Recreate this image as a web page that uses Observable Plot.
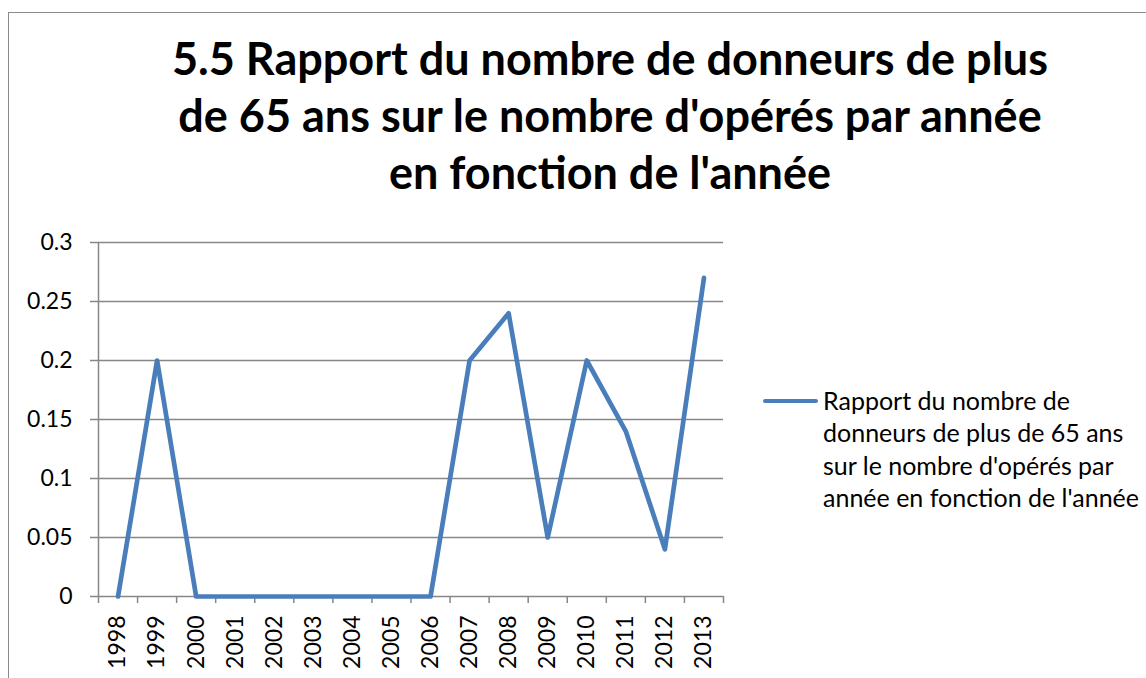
<!DOCTYPE html>
<html>
<head>
<meta charset="utf-8">
<script src="https://cdn.jsdelivr.net/npm/d3@7"></script>
<script src="https://cdn.jsdelivr.net/npm/@observablehq/plot@0.6"></script>
<style>
  html, body { margin: 0; padding: 0; background: #fff; }
  #wrap { position: relative; width: 1146px; height: 678px; overflow: hidden; font-family: Lato, "Open Sans", sans-serif; }
  #frame { position: absolute; left: 8px; top: 12px; width: 1200px; height: 700px; border-left: 1.5px solid #8a8a8a; border-top: 1.5px solid #8a8a8a; }
  #title { position: absolute; left: 110px; top: 30px; width: 1000px; text-align: center; font-weight: bold; font-size: 45px; line-height: 57px; color: #000; white-space: nowrap; }
  #chart { position: absolute; left: 0; top: 225px; }
  #legend { position: absolute; left: 763px; top: 384px; }
  #legend .swatch { position: absolute; left: 0; top: 14.5px; width: 55px; height: 4.5px; border-radius: 3px; background: #4a7ebb; }
  #legend .txt { position: absolute; left: 60px; top: 0; font-size: 25px; line-height: 32.3px; white-space: nowrap; color: #000; }
</style>
</head>
<body>
<div id="wrap">
  <div id="frame"></div>
  <div id="title"></div>
  <div id="chart"></div>
  <div id="legend"><div class="swatch"></div><div class="txt"></div></div>
</div>
<script>
const titleLines = ["5.5 Rapport du nombre de donneurs de plus", "de 65 ans sur le nombre d'opérés par année", "en fonction de l'année"];
const legendLines = ["Rapport du nombre de", "donneurs de plus de 65 ans", "sur le nombre d'opérés par", "année en fonction de l'année"];
const years = [1998, 1999, 2000, 2001, 2002, 2003, 2004, 2005, 2006, 2007, 2008, 2009, 2010, 2011, 2012, 2013];
const ratios = [0, 0.2, 0, 0, 0, 0, 0, 0, 0, 0.2, 0.24, 0.05, 0.2, 0.14, 0.04, 0.27];
const yTicks = [0, 0.05, 0.1, 0.15, 0.2, 0.25, 0.3];

document.getElementById("title").innerHTML = titleLines.join("<br>");
document.querySelector("#legend .txt").innerHTML = legendLines.join("<br>");

const data = years.map((year, i) => ({year, value: ratios[i]}));
const boundaries = years.map(y => y - 0.5).concat([years[years.length - 1] + 0.5]);
const grid = "#878787";

const chart = Plot.plot({
  width: 1146,
  height: 453,
  marginLeft: 98,
  marginRight: 423,
  marginTop: 17,
  marginBottom: 82,
  style: {fontFamily: "Lato, 'Open Sans', sans-serif", fontSize: "23px", background: "transparent", overflow: "visible"},
  x: {type: "linear", domain: [boundaries[0], boundaries[boundaries.length - 1]]},
  y: {domain: [0, 0.3]},
  marks: [
    Plot.ruleY(yTicks, {y: d => d, stroke: grid, strokeWidth: 1.5}),
    Plot.ruleX([boundaries[0]], {x: d => d, stroke: grid, strokeWidth: 1.5}),
    Plot.axisY(yTicks, {label: null, tickSize: 8, tickPadding: 18, tickFormat: d => String(d), stroke: grid, strokeWidth: 1.5, fill: "#000", fontSize: 23}),
    Plot.axisX(boundaries, {label: null, tickSize: 7, tickFormat: () => "", stroke: grid, strokeWidth: 1.5}),
    Plot.axisX(years, {label: null, tickSize: 0, tickPadding: 19, tickRotate: -90, tickFormat: d => String(d), fill: "#000", fontSize: 23}),
    Plot.line(data, {x: "year", y: "value", stroke: "#4a7ebb", strokeWidth: 4.7, strokeLinejoin: "round", strokeLinecap: "round"})
  ]
});
document.getElementById("chart").appendChild(chart);
</script>
</body>
</html>
